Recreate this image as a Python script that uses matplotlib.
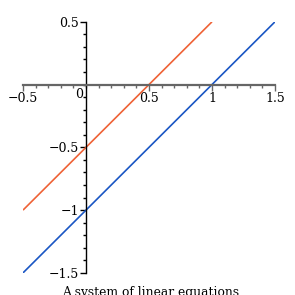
import numpy as np
import matplotlib
matplotlib.use("Agg")
import matplotlib.pyplot as plt
from matplotlib.ticker import MultipleLocator

plt.rcParams['font.family'] = 'DejaVu Serif'

# two lines of the system
x_orange = [-0.5, 1.0]
y_orange = [-1.0, 0.5]
x_blue = [-0.5, 1.5]
y_blue = [-1.5, 0.5]

xticks = [-0.5, 0.5, 1, 1.5]
xlabels = ['\u22120.5', '0.5', '1', '1.5']
yticks = [-1.5, -1, -0.5, 0.5]
ylabels = ['\u22121.5', '\u22121', '\u22120.5', '0.5']
title = "A system of linear equations"

fig = plt.figure(figsize=(2.95, 2.95), dpi=100)
ax = fig.add_axes([0.078, 0.075, 0.854, 0.851])

ax.plot(x_orange, y_orange, color='#ef6236', lw=1.2, solid_capstyle='butt')
ax.plot(x_blue, y_blue, color='#1a56c4', lw=1.2, solid_capstyle='butt')

ax.set_xlim(-0.5, 1.5)
ax.set_ylim(-1.5, 0.5)

ax.spines['left'].set_position(('data', 0))
ax.spines['bottom'].set_position(('data', 0))
ax.spines['right'].set_visible(False)
ax.spines['top'].set_visible(False)
ax.spines['left'].set_color('black')
ax.spines['left'].set_linewidth(1.0)
ax.spines['bottom'].set_color('#666666')
ax.spines['bottom'].set_linewidth(1.6)

ax.set_xticks(xticks)
ax.set_xticklabels(xlabels)
ax.set_yticks(yticks)
ax.set_yticklabels(ylabels)
ax.xaxis.set_minor_locator(MultipleLocator(0.1))
ax.yaxis.set_minor_locator(MultipleLocator(0.1))

ax.tick_params(axis='x', which='major', length=4, width=1, color='#666666',
               labelsize=9, pad=1)
ax.tick_params(axis='x', which='minor', length=2, width=1, color='#666666')
ax.tick_params(axis='y', which='major', length=4, width=1, color='black',
               labelsize=9, pad=1)
ax.tick_params(axis='y', which='minor', length=2, width=1, color='black')

ax.text(-0.02, -0.025, '0', ha='right', va='top', fontsize=9)

fig.text(0.51, 0.03, title, ha='center', va='top', fontsize=8.8)

fig.savefig('out.png', dpi=100)
